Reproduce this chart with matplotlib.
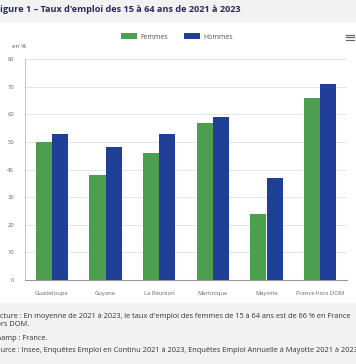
import matplotlib
matplotlib.use("Agg")
import matplotlib.pyplot as plt
import numpy as np
from matplotlib.patches import Rectangle

categories = ["Guadeloupe", "Guyane", "La Réunion", "Martinique", "Mayotte", "France hors DOM"]
femmes = [50, 38, 46, 57, 24, 66]
hommes = [53, 48, 53, 59, 37, 71]

GREEN = "#4c9f4f"
BLUE = "#203f96"
TITLE_COLOR = "#262a5c"
TEXT_COLOR = "#333333"

W, H = 356, 364
plt.rcParams["font.family"] = ["Open Sans", "DejaVu Sans"]

fig = plt.figure(figsize=(W / 100, H / 100), dpi=100)
fig.patch.set_facecolor("#f2f2f2")

# white chart panel (behind the axes)
fig.patches.append(Rectangle((0, 1 - 303 / H), 1, (303 - 23) / H,
                             transform=fig.transFigure, facecolor="white",
                             edgecolor="none", zorder=-5))

ax = fig.add_axes([25 / W, 1 - 280 / H, (347 - 25) / W, (280 - 59) / H])
ax.set_zorder(2)
ax.set_facecolor("white")

x = np.arange(len(categories))
bw = 0.3
ax.bar(x - bw / 2, femmes, width=bw, color=GREEN, label="Femmes", zorder=3)
ax.bar(x + bw / 2, hommes, width=bw, color=BLUE, label="Hommes", zorder=3)

ax.set_xlim(-0.5, len(categories) - 0.5)
ax.set_ylim(0, 80)
ax.set_yticks(range(0, 81, 10))
ax.set_xticks(x)
ax.set_xticklabels(categories)
ax.tick_params(axis="both", length=0, labelsize=4.2, colors="#666666")
ax.tick_params(axis="y", pad=8)
ax.tick_params(axis="x", pad=8)
ax.grid(axis="y", color="#e0e0e0", linewidth=0.6, zorder=0)
for side in ("top", "right"):
    ax.spines[side].set_visible(False)
ax.spines["left"].set_color("#bbbbbb")
ax.spines["left"].set_linewidth(0.6)
ax.spines["bottom"].set_color("#999999")
ax.spines["bottom"].set_linewidth(0.8)

fig.text(12 / W, 1 - 47 / H, "en %", fontsize=4.6, color="#555555", va="center")

fig.legend(loc="center", bbox_to_anchor=(177 / W, 1 - 37 / H), ncol=2, frameon=False,
           fontsize=5, handlelength=2.4, handleheight=0.9, columnspacing=2.2,
           handletextpad=0.5, labelcolor="#555555")

# menu icon
for dy in (-2.5, 0, 2.5):
    fig.add_artist(plt.Line2D([346 / W, 354 / W], [1 - (37 + dy) / H] * 2,
                              transform=fig.transFigure, color="#666666", linewidth=0.9))

fig.text(-5 / W, 1 - 10 / H, "Figure 1 – Taux d'emploi des 15 à 64 ans de 2021 à 2023",
         fontsize=6.6, fontweight="bold", color=TITLE_COLOR, va="center")

notes = [
    (317, "Lecture : En moyenne de 2021 à 2023, le taux d'emploi des femmes de 15 à 64 ans est de 66 % en France"),
    (324, "hors DOM."),
    (338, "Champ : France."),
    (351, "Source : Insee, Enquêtes Emploi en Continu 2021 à 2023, Enquêtes Emploi Annuelle à Mayotte 2021 à 2023."),
]
for yy, txt in notes:
    fig.text(-8 / W, 1 - yy / H, txt, fontsize=5.35, color=TEXT_COLOR, va="center")

fig.savefig("out.png", dpi=100, facecolor=fig.get_facecolor())
